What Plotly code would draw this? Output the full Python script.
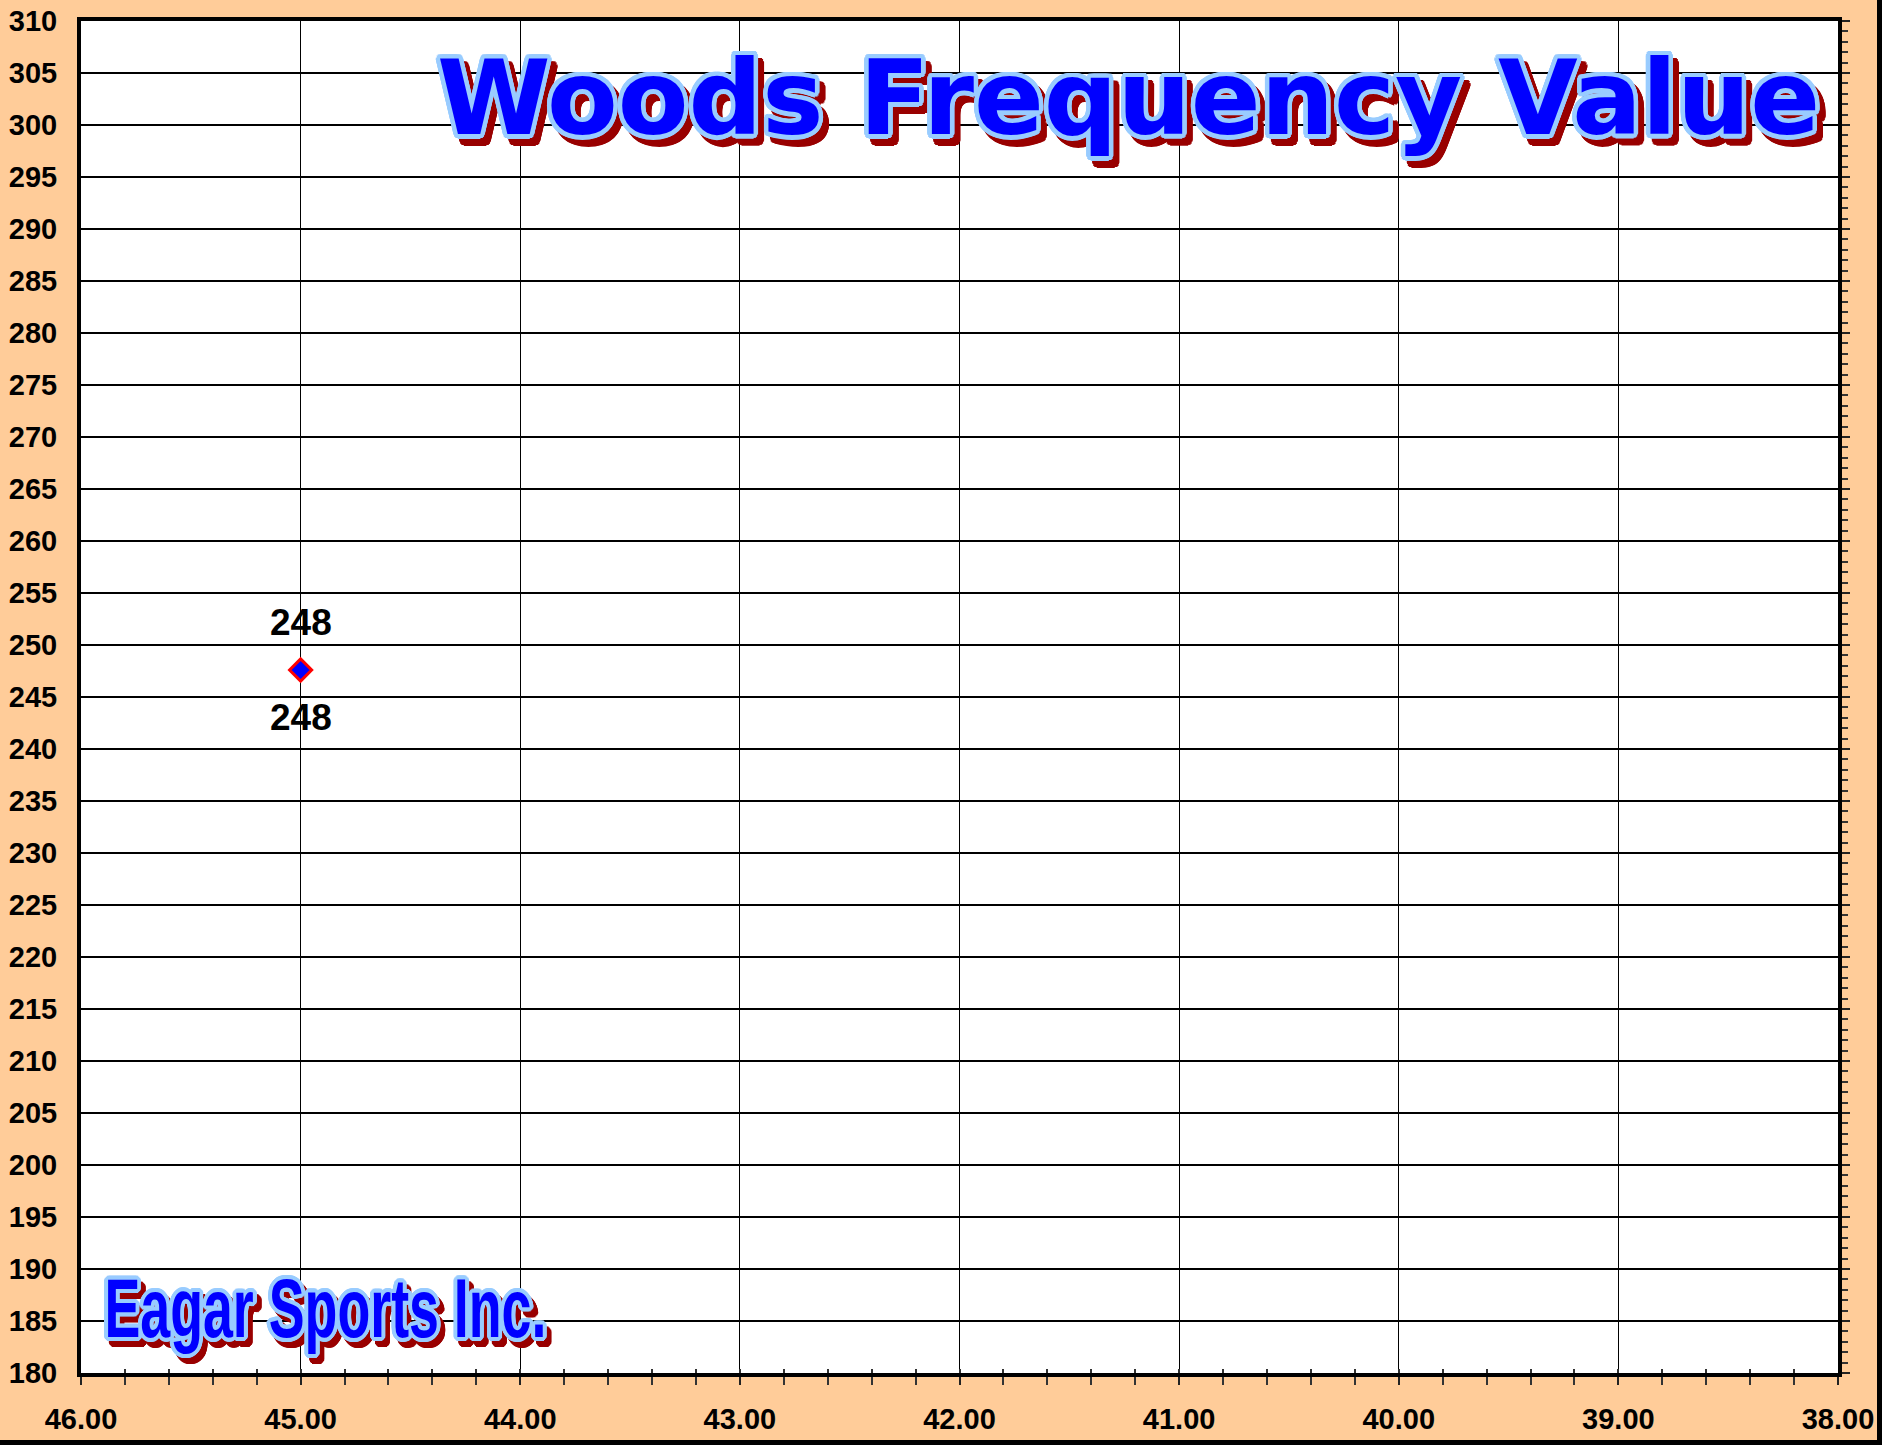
import math
import json
import plotly.graph_objects as go

# ---------------- data ----------------
x_vals = [45.0]
y_vals = [247.6]

x_ticks = [46, 45, 44, 43, 42, 41, 40, 39, 38]
x_ticklabels = ["46.00", "45.00", "44.00", "43.00", "42.00", "41.00", "40.00", "39.00", "38.00"]
y_ticks = [180, 185, 190, 195, 200, 205, 210, 215, 220, 225, 230, 235, 240, 245,
           250, 255, 260, 265, 270, 275, 280, 285, 290, 295, 300, 305, 310]
y_ticklabels = [str(v) for v in y_ticks]

title_text = "Woods Frequency Value"
logo_text = "Eagar Sports Inc."

# ---------------- layout geometry ----------------
W, H = 1882, 1445          # chart frame (page beyond it stays white)
ML, MR, MT, MB = 81, 44, 21, 72
PW = W - ML - MR
PH = H - MT - MB
LOGO_SCALE = 0.64


def px(x):
    return (x - ML) / PW


def py(y):
    return (H - MB - y) / PH


def fancy_shadow(rx, ry, ocol, dx, dy, scol, n=20):
    offs = []
    for k in range(n):
        a = 2 * math.pi * k / n
        offs.append((round(rx * math.cos(a), 1), round(ry * math.sin(a), 1)))
    parts = [f"{ox}px {oy}px 0px {ocol}" for ox, oy in offs]
    parts += [f"{round(ox + dx, 1)}px {round(oy + dy, 1)}px 0px {scol}" for ox, oy in offs]
    parts += [f"{dx}px {dy}px 0px {scol}"]
    return ", ".join(parts)


BLUE = "#0000FF"
LIGHT = "#99CCFF"
DARKRED = "#990000"
ORANGE = "#FFCC99"
LBL_FONT = "Liberation Sans, Arial, sans-serif"

fig = go.Figure()

fig.add_trace(go.Scatter(
    x=x_vals, y=y_vals, mode="markers",
    marker=dict(symbol="diamond", size=17, color=BLUE,
                line=dict(color="#FF0000", width=3)),
    showlegend=False, hoverinfo="skip", cliponaxis=False,
))
# empty helper traces so the overlay axes are drawn
fig.add_trace(go.Scatter(x=[], y=[], xaxis="x", yaxis="y2", showlegend=False, hoverinfo="skip"))
fig.add_trace(go.Scatter(x=[], y=[], xaxis="x2", yaxis="y", showlegend=False, hoverinfo="skip"))

# data labels above and below the point
for xv, yv in zip(x_vals, y_vals):
    for shift in (47, -48):
        fig.add_annotation(
            x=xv, y=yv, xref="x", yref="y", text=f"{yv:.0f}", showarrow=False,
            yshift=shift, xanchor="center", yanchor="middle",
            font=dict(family=LBL_FONT, size=37, color="#000000", weight="bold"),
        )

# title
fig.add_annotation(
    xref="paper", yref="paper", x=px(1128), y=py(98),
    xanchor="center", yanchor="middle", showarrow=False, text=title_text,
    font=dict(family="DejaVu Sans, Liberation Sans, sans-serif", size=103,
              color=BLUE, weight="bold",
              shadow=fancy_shadow(4.5, 4.5, LIGHT, 6, 7, DARKRED)),
)
# logo
fig.add_annotation(
    xref="paper", yref="paper", x=px(325), y=py(1308),
    xanchor="center", yanchor="middle", showarrow=False, text=logo_text,
    font=dict(family="Liberation Sans, Arial, sans-serif",
              size=84, color=BLUE, weight="bold",
              shadow=fancy_shadow(3.2 / LOGO_SCALE, 3.2, LIGHT,
                                  round(4 / LOGO_SCALE, 1), 5, DARKRED)),
)

shapes = [
    # black frame border (right and bottom edges of the chart frame)
    dict(type="line", xref="paper", yref="paper", x0=px(W - 2.5), x1=px(W - 2.5),
         y0=py(-5), y1=py(H + 5), line=dict(color="#000000", width=5), layer="below"),
    dict(type="line", xref="paper", yref="paper", x0=px(-5), x1=px(W + 5),
         y0=py(H - 2.5), y1=py(H - 2.5), line=dict(color="#000000", width=5), layer="below"),
]

fig.update_layout(
    width=W, height=H,
    margin=dict(l=ML, r=MR, t=MT, b=MB, autoexpand=False),
    paper_bgcolor=ORANGE, plot_bgcolor="#FFFFFF",
    showlegend=False,
    shapes=shapes,
    xaxis=dict(
        range=[46, 38], tickmode="array", tickvals=x_ticks, ticktext=x_ticklabels,
        showgrid=True, gridcolor="#000000", gridwidth=1,
        showline=True, linecolor="#000000", linewidth=4, mirror=True,
        ticks="outside", ticklen=8, tickwidth=1.5, tickcolor="#222222",
        minor=dict(tickmode="linear", tick0=38, dtick=0.2, ticks="outside",
                   ticklen=8, tickwidth=1.5, tickcolor="#333333", showgrid=False),
        tickfont=dict(family=LBL_FONT, size=29, color="#000000", weight="bold"),
        ticklabelstandoff=9, zeroline=False,
    ),
    xaxis2=dict(
        overlaying="x", anchor="y", side="bottom", range=[46, 38],
        tickmode="array", tickvals=x_ticks, showticklabels=False,
        ticks="inside", ticklen=4, tickwidth=1.5, tickcolor="#333333",
        minor=dict(tickmode="linear", tick0=38, dtick=0.2, ticks="inside",
                   ticklen=4, tickwidth=1.5, tickcolor="#333333", showgrid=False),
        showgrid=False, showline=False, zeroline=False,
    ),
    yaxis=dict(
        range=[180, 310], tickmode="array", tickvals=y_ticks, ticktext=y_ticklabels,
        showgrid=True, gridcolor="#000000", gridwidth=2,
        showline=True, linecolor="#000000", linewidth=4, mirror=True,
        ticks="", tickfont=dict(family=LBL_FONT, size=29, color="#000000", weight="bold"),
        ticklabelstandoff=14, zeroline=False,
    ),
    yaxis2=dict(
        overlaying="y", anchor="x", side="right", range=[180, 310],
        tickmode="array", tickvals=y_ticks, showticklabels=False,
        ticks="outside", ticklen=8, tickwidth=1.5, tickcolor="#222222",
        minor=dict(tickmode="linear", tick0=180, dtick=1, ticks="outside",
                   ticklen=6, tickwidth=1.5, tickcolor="#333333", showgrid=False),
        showgrid=False, showline=True, linecolor="#000000", linewidth=4, zeroline=False,
    ),
)

post_js = """
document.documentElement.style.margin='0';
document.documentElement.style.background='#FFFFFF';
document.body.style.margin='0';
document.body.style.padding='0';
document.body.style.background='#FFFFFF';
var gd = document.getElementById('{plot_id}');
gd.querySelectorAll('text.annotation-text').forEach(function(t){
  if (t.textContent === %s) {
    t.style.transformBox = 'fill-box';
    t.style.transformOrigin = 'center';
    t.style.transform = 'scaleX(%s)';
  }
});
""" % (json.dumps(logo_text), LOGO_SCALE)

fig.write_html("out.html", post_script=post_js, config={"displayModeBar": False})
